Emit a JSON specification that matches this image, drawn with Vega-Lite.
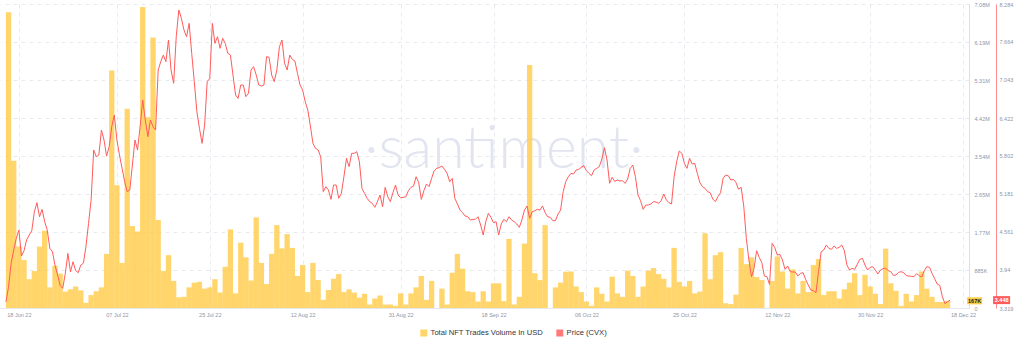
{
"$schema":"https://vega.github.io/schema/vega-lite/v6.json",
"width":969,"height":304,
"autosize":{"type":"none"},
"padding":{"left":0,"top":4,"right":54,"bottom":39},
"background":"#ffffff",
"config":{"view":{"stroke":null},"font":"Liberation Sans"},
"datasets":{
"vol":[
{"t":"2022-06-16","v":6886000},{"t":"2022-06-17","v":3430000},{"t":"2022-06-18","v":1430000},{"t":"2022-06-19","v":1120000},{"t":"2022-06-20","v":670000},{"t":"2022-06-21","v":860000},{"t":"2022-06-22","v":1430000},{"t":"2022-06-23","v":1800000},{"t":"2022-06-24","v":480000},{"t":"2022-06-25","v":985000},{"t":"2022-06-26","v":800000},{"t":"2022-06-27","v":380000},{"t":"2022-06-28","v":435000},{"t":"2022-06-29","v":500000},{"t":"2022-06-30","v":410000},
{"t":"2022-07-01","v":120000},{"t":"2022-07-02","v":300000},{"t":"2022-07-03","v":390000},{"t":"2022-07-04","v":480000},{"t":"2022-07-05","v":1260000},{"t":"2022-07-06","v":5530000},{"t":"2022-07-07","v":2860000},{"t":"2022-07-08","v":1050000},{"t":"2022-07-09","v":4640000},{"t":"2022-07-10","v":1910000},{"t":"2022-07-11","v":1780000},{"t":"2022-07-12","v":7010000},{"t":"2022-07-13","v":4440000},{"t":"2022-07-14","v":6300000},{"t":"2022-07-15","v":2050000},{"t":"2022-07-16","v":860000},{"t":"2022-07-17","v":1230000},{"t":"2022-07-18","v":630000},{"t":"2022-07-19","v":250000},{"t":"2022-07-20","v":260000},{"t":"2022-07-21","v":480000},{"t":"2022-07-22","v":590000},{"t":"2022-07-23","v":610000},{"t":"2022-07-24","v":450000},{"t":"2022-07-25","v":480000},{"t":"2022-07-26","v":670000},{"t":"2022-07-27","v":360000},{"t":"2022-07-28","v":960000},{"t":"2022-07-29","v":1830000},{"t":"2022-07-30","v":340000},{"t":"2022-07-31","v":1520000},
{"t":"2022-08-01","v":1180000},{"t":"2022-08-02","v":640000},{"t":"2022-08-03","v":2110000},{"t":"2022-08-04","v":1050000},{"t":"2022-08-05","v":560000},{"t":"2022-08-06","v":1260000},{"t":"2022-08-07","v":1930000},{"t":"2022-08-08","v":1390000},{"t":"2022-08-09","v":1720000},{"t":"2022-08-10","v":1400000},{"t":"2022-08-11","v":745000},{"t":"2022-08-12","v":1000000},{"t":"2022-08-13","v":370000},{"t":"2022-08-14","v":1050000},{"t":"2022-08-15","v":650000},{"t":"2022-08-16","v":190000},{"t":"2022-08-17","v":420000},{"t":"2022-08-18","v":680000},{"t":"2022-08-19","v":790000},{"t":"2022-08-20","v":370000},{"t":"2022-08-21","v":435000},{"t":"2022-08-22","v":360000},{"t":"2022-08-23","v":240000},{"t":"2022-08-24","v":330000},{"t":"2022-08-25","v":80000},{"t":"2022-08-26","v":220000},{"t":"2022-08-27","v":290000},{"t":"2022-08-28","v":80000},{"t":"2022-08-29","v":80000},{"t":"2022-08-30","v":50000},{"t":"2022-08-31","v":340000},
{"t":"2022-09-01","v":80000},{"t":"2022-09-02","v":340000},{"t":"2022-09-03","v":480000},{"t":"2022-09-04","v":745000},{"t":"2022-09-05","v":190000},{"t":"2022-09-06","v":630000},{"t":"2022-09-07","v":0},{"t":"2022-09-08","v":450000},{"t":"2022-09-09","v":80000},{"t":"2022-09-10","v":820000},{"t":"2022-09-11","v":1260000},{"t":"2022-09-12","v":915000},{"t":"2022-09-13","v":390000},{"t":"2022-09-14","v":370000},{"t":"2022-09-15","v":150000},{"t":"2022-09-16","v":390000},{"t":"2022-09-17","v":150000},{"t":"2022-09-18","v":575000},{"t":"2022-09-19","v":575000},{"t":"2022-09-20","v":160000},{"t":"2022-09-21","v":1610000},{"t":"2022-09-22","v":80000},{"t":"2022-09-23","v":260000},{"t":"2022-09-24","v":1500000},{"t":"2022-09-25","v":5660000},{"t":"2022-09-26","v":810000},{"t":"2022-09-27","v":650000},{"t":"2022-09-28","v":1930000},{"t":"2022-09-29","v":0},{"t":"2022-09-30","v":480000},
{"t":"2022-10-01","v":590000},{"t":"2022-10-02","v":845000},{"t":"2022-10-03","v":850000},{"t":"2022-10-04","v":500000},{"t":"2022-10-05","v":370000},{"t":"2022-10-06","v":150000},{"t":"2022-10-07","v":50000},{"t":"2022-10-08","v":480000},{"t":"2022-10-09","v":330000},{"t":"2022-10-10","v":150000},{"t":"2022-10-11","v":730000},{"t":"2022-10-12","v":340000},{"t":"2022-10-13","v":260000},{"t":"2022-10-14","v":870000},{"t":"2022-10-15","v":745000},{"t":"2022-10-16","v":260000},{"t":"2022-10-17","v":500000},{"t":"2022-10-18","v":870000},{"t":"2022-10-19","v":930000},{"t":"2022-10-20","v":790000},{"t":"2022-10-21","v":680000},{"t":"2022-10-22","v":480000},{"t":"2022-10-23","v":1400000},{"t":"2022-10-24","v":610000},{"t":"2022-10-25","v":500000},{"t":"2022-10-26","v":630000},{"t":"2022-10-27","v":340000},{"t":"2022-10-28","v":380000},{"t":"2022-10-29","v":1740000},{"t":"2022-10-30","v":670000},{"t":"2022-10-31","v":1230000},
{"t":"2022-11-01","v":1300000},{"t":"2022-11-02","v":110000},{"t":"2022-11-03","v":90000},{"t":"2022-11-04","v":310000},{"t":"2022-11-05","v":1400000},{"t":"2022-11-06","v":1020000},{"t":"2022-11-07","v":1180000},{"t":"2022-11-08","v":720000},{"t":"2022-11-09","v":650000},{"t":"2022-11-10","v":0},{"t":"2022-11-11","v":630000},{"t":"2022-11-12","v":1200000},{"t":"2022-11-13","v":850000},{"t":"2022-11-14","v":450000},{"t":"2022-11-15","v":900000},{"t":"2022-11-16","v":340000},{"t":"2022-11-17","v":630000},{"t":"2022-11-18","v":370000},{"t":"2022-11-19","v":1000000},{"t":"2022-11-20","v":1140000},{"t":"2022-11-21","v":300000},{"t":"2022-11-22","v":390000},{"t":"2022-11-23","v":390000},{"t":"2022-11-24","v":220000},{"t":"2022-11-25","v":435000},{"t":"2022-11-26","v":590000},{"t":"2022-11-27","v":810000},{"t":"2022-11-28","v":300000},{"t":"2022-11-29","v":770000},{"t":"2022-11-30","v":500000},
{"t":"2022-12-01","v":330000},{"t":"2022-12-02","v":90000},{"t":"2022-12-03","v":1380000},{"t":"2022-12-04","v":575000},{"t":"2022-12-05","v":400000},{"t":"2022-12-06","v":50000},{"t":"2022-12-07","v":330000},{"t":"2022-12-08","v":150000},{"t":"2022-12-09","v":300000},{"t":"2022-12-10","v":850000},{"t":"2022-12-11","v":450000},{"t":"2022-12-12","v":260000},{"t":"2022-12-13","v":140000},{"t":"2022-12-14","v":140000},{"t":"2022-12-15","v":167000}
],
"price":[
{"t":"2022-06-15T12:00Z","p":3.42},{"t":"2022-06-16T00:00Z","p":3.667},{"t":"2022-06-16T12:00Z","p":4.05},{"t":"2022-06-17T00:00Z","p":4.266},{"t":"2022-06-17T12:00Z","p":4.457},{"t":"2022-06-18T00:00Z","p":4.59},{"t":"2022-06-18T12:00Z","p":4.168},{"t":"2022-06-19T00:00Z","p":4.255},{"t":"2022-06-19T12:00Z","p":4.43},{"t":"2022-06-20T00:00Z","p":4.511},{"t":"2022-06-20T12:00Z","p":4.58},{"t":"2022-06-21T00:00Z","p":4.89},{"t":"2022-06-21T12:00Z","p":5.04},{"t":"2022-06-22T00:00Z","p":4.81},{"t":"2022-06-22T12:00Z","p":4.93},{"t":"2022-06-23T00:00Z","p":4.73},{"t":"2022-06-23T12:00Z","p":4.59},{"t":"2022-06-24T00:00Z","p":4.293},{"t":"2022-06-24T12:00Z","p":4.24},{"t":"2022-06-25T00:00Z","p":4.02},{"t":"2022-06-25T12:00Z","p":3.86},{"t":"2022-06-26T00:00Z","p":3.69},{"t":"2022-06-26T12:00Z","p":3.64},{"t":"2022-06-27T00:00Z","p":3.885},{"t":"2022-06-27T12:00Z","p":4.21},{"t":"2022-06-28T00:00Z","p":3.91},{"t":"2022-06-28T12:00Z","p":4.075},{"t":"2022-06-29T00:00Z","p":3.93},{"t":"2022-06-29T12:00Z","p":3.896},{"t":"2022-06-30T00:00Z","p":4.02},{"t":"2022-06-30T12:00Z","p":4.05},
{"t":"2022-07-01T00:00Z","p":4.32},{"t":"2022-07-01T12:00Z","p":4.7},{"t":"2022-07-02T00:00Z","p":5.08},{"t":"2022-07-02T12:00Z","p":5.9},{"t":"2022-07-03T00:00Z","p":5.79},{"t":"2022-07-03T12:00Z","p":5.818},{"t":"2022-07-04T00:00Z","p":6.226},{"t":"2022-07-04T12:00Z","p":6.063},{"t":"2022-07-05T00:00Z","p":5.8},{"t":"2022-07-05T12:00Z","p":5.953},{"t":"2022-07-06T00:00Z","p":6.28},{"t":"2022-07-06T12:00Z","p":6.47},{"t":"2022-07-07T00:00Z","p":6.063},{"t":"2022-07-07T12:00Z","p":5.818},{"t":"2022-07-08T00:00Z","p":5.6},{"t":"2022-07-08T12:00Z","p":5.382},{"t":"2022-07-09T00:00Z","p":5.219},{"t":"2022-07-09T12:00Z","p":5.246},{"t":"2022-07-10T00:00Z","p":5.654},{"t":"2022-07-10T12:00Z","p":6.063},{"t":"2022-07-11T00:00Z","p":5.9},{"t":"2022-07-11T12:00Z","p":6.28},{"t":"2022-07-12T00:00Z","p":6.716},{"t":"2022-07-12T12:00Z","p":6.389},{"t":"2022-07-13T00:00Z","p":6.117},{"t":"2022-07-13T12:00Z","p":6.389},{"t":"2022-07-14T00:00Z","p":6.28},{"t":"2022-07-14T12:00Z","p":6.226},{"t":"2022-07-15T00:00Z","p":7.206},{"t":"2022-07-15T12:00Z","p":7.342},{"t":"2022-07-16T00:00Z","p":7.45},{"t":"2022-07-16T12:00Z","p":7.342},{"t":"2022-07-17T00:00Z","p":7.696},{"t":"2022-07-17T12:00Z","p":7.206},{"t":"2022-07-18T00:00Z","p":6.988},{"t":"2022-07-18T12:00Z","p":7.75},{"t":"2022-07-19T00:00Z","p":8.186},{"t":"2022-07-19T12:00Z","p":8.05},{"t":"2022-07-20T00:00Z","p":7.859},{"t":"2022-07-20T12:00Z","p":7.75},{"t":"2022-07-21T00:00Z","p":7.968},{"t":"2022-07-21T12:00Z","p":7.478},{"t":"2022-07-22T00:00Z","p":7.015},{"t":"2022-07-22T12:00Z","p":6.525},{"t":"2022-07-23T00:00Z","p":6.253},{"t":"2022-07-23T12:00Z","p":6.008},{"t":"2022-07-24T00:00Z","p":6.307},{"t":"2022-07-24T12:00Z","p":7.015},{"t":"2022-07-25T00:00Z","p":7.07},{"t":"2022-07-25T12:00Z","p":7.968},{"t":"2022-07-26T00:00Z","p":7.641},{"t":"2022-07-26T12:00Z","p":7.75},{"t":"2022-07-27T00:00Z","p":7.56},{"t":"2022-07-27T12:00Z","p":7.723},{"t":"2022-07-28T00:00Z","p":7.641},{"t":"2022-07-28T12:00Z","p":7.478},{"t":"2022-07-29T00:00Z","p":7.45},{"t":"2022-07-29T12:00Z","p":7.124},{"t":"2022-07-30T00:00Z","p":6.797},{"t":"2022-07-30T12:00Z","p":6.743},{"t":"2022-07-31T00:00Z","p":6.961},{"t":"2022-07-31T12:00Z","p":6.961},
{"t":"2022-08-01T00:00Z","p":6.77},{"t":"2022-08-01T12:00Z","p":6.825},{"t":"2022-08-02T00:00Z","p":7.206},{"t":"2022-08-02T12:00Z","p":7.26},{"t":"2022-08-03T00:00Z","p":7.124},{"t":"2022-08-03T12:00Z","p":6.961},{"t":"2022-08-04T00:00Z","p":6.944},{"t":"2022-08-04T12:00Z","p":6.961},{"t":"2022-08-05T00:00Z","p":7.424},{"t":"2022-08-05T12:00Z","p":7.413},{"t":"2022-08-06T00:00Z","p":7.124},{"t":"2022-08-06T12:00Z","p":7.015},{"t":"2022-08-07T00:00Z","p":7.206},{"t":"2022-08-07T12:00Z","p":7.587},{"t":"2022-08-08T00:00Z","p":7.696},{"t":"2022-08-08T12:00Z","p":7.315},{"t":"2022-08-09T00:00Z","p":7.206},{"t":"2022-08-09T12:00Z","p":7.45},{"t":"2022-08-10T00:00Z","p":7.38},{"t":"2022-08-10T12:00Z","p":7.353},{"t":"2022-08-11T00:00Z","p":7.151},{"t":"2022-08-11T12:00Z","p":6.961},{"t":"2022-08-12T00:00Z","p":6.879},{"t":"2022-08-12T12:00Z","p":6.689},{"t":"2022-08-13T00:00Z","p":6.552},{"t":"2022-08-13T12:00Z","p":6.291},{"t":"2022-08-14T00:00Z","p":6.008},{"t":"2022-08-14T12:00Z","p":5.926},{"t":"2022-08-15T00:00Z","p":5.899},{"t":"2022-08-15T12:00Z","p":5.79},{"t":"2022-08-16T00:00Z","p":5.219},{"t":"2022-08-16T12:00Z","p":5.3},{"t":"2022-08-17T00:00Z","p":5.246},{"t":"2022-08-17T12:00Z","p":5.093},{"t":"2022-08-18T00:00Z","p":5.328},{"t":"2022-08-18T12:00Z","p":5.328},{"t":"2022-08-19T00:00Z","p":5.11},{"t":"2022-08-19T12:00Z","p":5.191},{"t":"2022-08-20T00:00Z","p":5.463},{"t":"2022-08-20T12:00Z","p":5.763},{"t":"2022-08-21T00:00Z","p":5.627},{"t":"2022-08-21T12:00Z","p":5.845},{"t":"2022-08-22T00:00Z","p":5.845},{"t":"2022-08-22T12:00Z","p":5.872},{"t":"2022-08-23T00:00Z","p":5.709},{"t":"2022-08-23T12:00Z","p":5.273},{"t":"2022-08-24T00:00Z","p":5.191},{"t":"2022-08-24T12:00Z","p":5.11},{"t":"2022-08-25T00:00Z","p":5.056},{"t":"2022-08-25T12:00Z","p":5.028},{"t":"2022-08-26T00:00Z","p":4.963},{"t":"2022-08-26T12:00Z","p":5.056},{"t":"2022-08-27T00:00Z","p":5.164},{"t":"2022-08-27T12:00Z","p":4.974},{"t":"2022-08-28T00:00Z","p":5.29},{"t":"2022-08-28T12:00Z","p":5.137},{"t":"2022-08-29T00:00Z","p":5.056},{"t":"2022-08-29T12:00Z","p":5.202},{"t":"2022-08-30T00:00Z","p":5.327},{"t":"2022-08-30T12:00Z","p":5.164},{"t":"2022-08-31T00:00Z","p":5.12},{"t":"2022-08-31T12:00Z","p":5.126},
{"t":"2022-09-01T00:00Z","p":5.137},{"t":"2022-09-01T12:00Z","p":5.235},{"t":"2022-09-02T00:00Z","p":5.29},{"t":"2022-09-02T12:00Z","p":5.311},{"t":"2022-09-03T00:00Z","p":5.463},{"t":"2022-09-03T12:00Z","p":5.366},{"t":"2022-09-04T00:00Z","p":5.093},{"t":"2022-09-04T12:00Z","p":5.235},{"t":"2022-09-05T00:00Z","p":5.344},{"t":"2022-09-05T12:00Z","p":5.3},{"t":"2022-09-06T00:00Z","p":5.437},{"t":"2022-09-06T12:00Z","p":5.562},{"t":"2022-09-07T00:00Z","p":5.6},{"t":"2022-09-07T12:00Z","p":5.611},{"t":"2022-09-08T00:00Z","p":5.638},{"t":"2022-09-08T12:00Z","p":5.583},{"t":"2022-09-09T00:00Z","p":5.518},{"t":"2022-09-09T12:00Z","p":5.382},{"t":"2022-09-10T00:00Z","p":5.437},{"t":"2022-09-10T12:00Z","p":5.11},{"t":"2022-09-11T00:00Z","p":5.017},{"t":"2022-09-11T12:00Z","p":4.919},{"t":"2022-09-12T00:00Z","p":4.876},{"t":"2022-09-12T12:00Z","p":4.821},{"t":"2022-09-13T00:00Z","p":4.81},{"t":"2022-09-13T12:00Z","p":4.756},{"t":"2022-09-14T00:00Z","p":4.767},{"t":"2022-09-14T12:00Z","p":4.767},{"t":"2022-09-15T00:00Z","p":4.81},{"t":"2022-09-15T12:00Z","p":4.674},{"t":"2022-09-16T00:00Z","p":4.511},{"t":"2022-09-16T12:00Z","p":4.729},{"t":"2022-09-17T00:00Z","p":4.865},{"t":"2022-09-17T12:00Z","p":4.8},{"t":"2022-09-18T00:00Z","p":4.712},{"t":"2022-09-18T12:00Z","p":4.729},{"t":"2022-09-19T00:00Z","p":4.511},{"t":"2022-09-19T12:00Z","p":4.691},{"t":"2022-09-20T00:00Z","p":4.767},{"t":"2022-09-20T12:00Z","p":4.729},{"t":"2022-09-21T00:00Z","p":4.81},{"t":"2022-09-21T12:00Z","p":4.756},{"t":"2022-09-22T00:00Z","p":4.729},{"t":"2022-09-22T12:00Z","p":4.691},{"t":"2022-09-23T00:00Z","p":4.636},{"t":"2022-09-23T12:00Z","p":4.756},{"t":"2022-09-24T00:00Z","p":4.919},{"t":"2022-09-24T12:00Z","p":4.985},{"t":"2022-09-25T00:00Z","p":4.783},{"t":"2022-09-25T12:00Z","p":4.892},{"t":"2022-09-26T00:00Z","p":4.908},{"t":"2022-09-26T12:00Z","p":4.93},{"t":"2022-09-27T00:00Z","p":4.919},{"t":"2022-09-27T12:00Z","p":4.985},{"t":"2022-09-28T00:00Z","p":4.876},{"t":"2022-09-28T12:00Z","p":4.81},{"t":"2022-09-29T00:00Z","p":4.8},{"t":"2022-09-29T12:00Z","p":4.745},{"t":"2022-09-30T00:00Z","p":4.745},{"t":"2022-09-30T12:00Z","p":4.854},
{"t":"2022-10-01T00:00Z","p":4.919},{"t":"2022-10-01T12:00Z","p":5.219},{"t":"2022-10-02T00:00Z","p":5.382},{"t":"2022-10-02T12:00Z","p":5.463},{"t":"2022-10-03T00:00Z","p":5.518},{"t":"2022-10-03T12:00Z","p":5.507},{"t":"2022-10-04T00:00Z","p":5.573},{"t":"2022-10-04T12:00Z","p":5.583},{"t":"2022-10-05T00:00Z","p":5.616},{"t":"2022-10-05T12:00Z","p":5.643},{"t":"2022-10-06T00:00Z","p":5.562},{"t":"2022-10-06T12:00Z","p":5.518},{"t":"2022-10-07T00:00Z","p":5.48},{"t":"2022-10-07T12:00Z","p":5.573},{"t":"2022-10-08T00:00Z","p":5.6},{"t":"2022-10-08T12:00Z","p":5.627},{"t":"2022-10-09T00:00Z","p":5.752},{"t":"2022-10-09T12:00Z","p":5.937},{"t":"2022-10-10T00:00Z","p":5.736},{"t":"2022-10-10T12:00Z","p":5.355},{"t":"2022-10-11T00:00Z","p":5.453},{"t":"2022-10-11T12:00Z","p":5.387},{"t":"2022-10-12T00:00Z","p":5.409},{"t":"2022-10-12T12:00Z","p":5.393},{"t":"2022-10-13T00:00Z","p":5.398},{"t":"2022-10-13T12:00Z","p":5.355},{"t":"2022-10-14T00:00Z","p":5.426},{"t":"2022-10-14T12:00Z","p":5.6},{"t":"2022-10-15T00:00Z","p":5.654},{"t":"2022-10-15T12:00Z","p":5.464},{"t":"2022-10-16T00:00Z","p":5.164},{"t":"2022-10-16T12:00Z","p":5.072},{"t":"2022-10-17T00:00Z","p":4.93},{"t":"2022-10-17T12:00Z","p":5.0},{"t":"2022-10-18T00:00Z","p":5.0},{"t":"2022-10-18T12:00Z","p":5.017},{"t":"2022-10-19T00:00Z","p":5.056},{"t":"2022-10-19T12:00Z","p":5.05},{"t":"2022-10-20T00:00Z","p":5.028},{"t":"2022-10-20T12:00Z","p":5.072},{"t":"2022-10-21T00:00Z","p":5.18},{"t":"2022-10-21T12:00Z","p":5.083},{"t":"2022-10-22T00:00Z","p":5.039},{"t":"2022-10-22T12:00Z","p":5.017},{"t":"2022-10-23T00:00Z","p":5.464},{"t":"2022-10-23T12:00Z","p":5.709},{"t":"2022-10-24T00:00Z","p":5.883},{"t":"2022-10-24T12:00Z","p":5.845},{"t":"2022-10-25T00:00Z","p":5.681},{"t":"2022-10-25T12:00Z","p":5.6},{"t":"2022-10-26T00:00Z","p":5.763},{"t":"2022-10-26T12:00Z","p":5.671},{"t":"2022-10-27T00:00Z","p":5.681},{"t":"2022-10-27T12:00Z","p":5.518},{"t":"2022-10-28T00:00Z","p":5.366},{"t":"2022-10-28T12:00Z","p":5.3},{"t":"2022-10-29T00:00Z","p":5.273},{"t":"2022-10-29T12:00Z","p":5.219},{"t":"2022-10-30T00:00Z","p":5.202},{"t":"2022-10-30T12:00Z","p":5.099},{"t":"2022-10-31T00:00Z","p":5.056},{"t":"2022-10-31T12:00Z","p":5.137},
{"t":"2022-11-01T00:00Z","p":5.202},{"t":"2022-11-01T12:00Z","p":5.437},{"t":"2022-11-02T00:00Z","p":5.491},{"t":"2022-11-02T12:00Z","p":5.48},{"t":"2022-11-03T00:00Z","p":5.409},{"t":"2022-11-03T12:00Z","p":5.42},{"t":"2022-11-04T00:00Z","p":5.366},{"t":"2022-11-04T12:00Z","p":5.257},{"t":"2022-11-05T00:00Z","p":5.29},{"t":"2022-11-05T12:00Z","p":4.985},{"t":"2022-11-06T00:00Z","p":4.457},{"t":"2022-11-06T12:00Z","p":4.103},{"t":"2022-11-07T00:00Z","p":3.83},{"t":"2022-11-07T12:00Z","p":3.967},{"t":"2022-11-08T00:00Z","p":4.255},{"t":"2022-11-08T12:00Z","p":4.146},{"t":"2022-11-09T00:00Z","p":4.059},{"t":"2022-11-09T12:00Z","p":3.841},{"t":"2022-11-10T00:00Z","p":3.83},{"t":"2022-11-10T12:00Z","p":3.705},{"t":"2022-11-11T00:00Z","p":4.375},{"t":"2022-11-11T12:00Z","p":4.31},{"t":"2022-11-12T00:00Z","p":4.184},{"t":"2022-11-12T12:00Z","p":4.195},{"t":"2022-11-13T00:00Z","p":4.103},{"t":"2022-11-13T12:00Z","p":3.95},{"t":"2022-11-14T00:00Z","p":4.005},{"t":"2022-11-14T12:00Z","p":3.912},{"t":"2022-11-15T00:00Z","p":3.907},{"t":"2022-11-15T12:00Z","p":3.907},{"t":"2022-11-16T00:00Z","p":3.841},{"t":"2022-11-16T12:00Z","p":3.885},{"t":"2022-11-17T00:00Z","p":3.896},{"t":"2022-11-17T12:00Z","p":3.787},{"t":"2022-11-18T00:00Z","p":3.694},{"t":"2022-11-18T12:00Z","p":3.613},{"t":"2022-11-19T00:00Z","p":3.602},{"t":"2022-11-19T12:00Z","p":3.569},{"t":"2022-11-20T00:00Z","p":3.918},{"t":"2022-11-20T12:00Z","p":4.239},{"t":"2022-11-21T00:00Z","p":4.266},{"t":"2022-11-21T12:00Z","p":4.348},{"t":"2022-11-22T00:00Z","p":4.293},{"t":"2022-11-22T12:00Z","p":4.277},{"t":"2022-11-23T00:00Z","p":4.331},{"t":"2022-11-23T12:00Z","p":4.293},{"t":"2022-11-24T00:00Z","p":4.31},{"t":"2022-11-24T12:00Z","p":4.348},{"t":"2022-11-25T00:00Z","p":4.255},{"t":"2022-11-25T12:00Z","p":4.021},{"t":"2022-11-26T00:00Z","p":3.939},{"t":"2022-11-26T12:00Z","p":3.967},{"t":"2022-11-27T00:00Z","p":3.95},{"t":"2022-11-27T12:00Z","p":4.032},{"t":"2022-11-28T00:00Z","p":4.114},{"t":"2022-11-28T12:00Z","p":4.13},{"t":"2022-11-29T00:00Z","p":4.021},{"t":"2022-11-29T12:00Z","p":3.939},{"t":"2022-11-30T00:00Z","p":3.983},{"t":"2022-11-30T12:00Z","p":3.994},
{"t":"2022-12-01T00:00Z","p":3.939},{"t":"2022-12-01T12:00Z","p":3.874},{"t":"2022-12-02T00:00Z","p":3.939},{"t":"2022-12-02T12:00Z","p":3.961},{"t":"2022-12-03T00:00Z","p":3.972},{"t":"2022-12-03T12:00Z","p":3.929},{"t":"2022-12-04T00:00Z","p":3.912},{"t":"2022-12-04T12:00Z","p":3.852},{"t":"2022-12-05T00:00Z","p":3.858},{"t":"2022-12-05T12:00Z","p":3.901},{"t":"2022-12-06T00:00Z","p":3.912},{"t":"2022-12-06T12:00Z","p":3.896},{"t":"2022-12-07T00:00Z","p":3.847},{"t":"2022-12-07T12:00Z","p":3.841},{"t":"2022-12-08T00:00Z","p":3.836},{"t":"2022-12-08T12:00Z","p":3.83},{"t":"2022-12-09T00:00Z","p":3.88},{"t":"2022-12-09T12:00Z","p":3.847},{"t":"2022-12-10T00:00Z","p":3.825},{"t":"2022-12-10T12:00Z","p":3.929},{"t":"2022-12-11T00:00Z","p":3.994},{"t":"2022-12-11T12:00Z","p":3.983},{"t":"2022-12-12T00:00Z","p":3.885},{"t":"2022-12-12T12:00Z","p":3.798},{"t":"2022-12-13T00:00Z","p":3.711},{"t":"2022-12-13T12:00Z","p":3.689},{"t":"2022-12-14T00:00Z","p":3.504},{"t":"2022-12-14T12:00Z","p":3.39},{"t":"2022-12-15T00:00Z","p":3.422},{"t":"2022-12-15T12:00Z","p":3.448}
]},
"encoding":{"x":{"field":"t","type":"temporal",
 "scale":{"type":"utc","domain":[{"year":2022,"month":6,"date":15,"hours":7,"minutes":26,"utc":true},{"year":2022,"month":12,"date":18,"hours":4,"minutes":35,"utc":true}]},
 "axis":{"title":null,"format":"%d %b %y","values":[{"year":2022,"month":6,"date":18,"utc":true},{"year":2022,"month":7,"date":7,"utc":true},{"year":2022,"month":7,"date":25,"utc":true},{"year":2022,"month":8,"date":12,"utc":true},{"year":2022,"month":8,"date":31,"utc":true},{"year":2022,"month":9,"date":18,"utc":true},{"year":2022,"month":10,"date":6,"utc":true},{"year":2022,"month":10,"date":25,"utc":true},{"year":2022,"month":11,"date":12,"utc":true},{"year":2022,"month":11,"date":30,"utc":true},{"year":2022,"month":12,"date":18,"utc":true}],
 "labelFontSize":5.5,"labelColor":"#8d95a8","tickSize":0,"labelPadding":4,"domainColor":"#e6e8ee","grid":true,"gridColor":"#e8eaf0","gridDash":[4,4],"labelOverlap":false,"labelFlush":false}}},
"layer":[
 {"encoding":{"y":{"field":"v","type":"quantitative","scale":{"domain":[0,7079200],"nice":false,"zero":true},
   "axis":{"orient":"right","title":null,"values":[0,884900,1769800,2654700,3539600,4424500,5309400,6194300,7079200],"labelExpr":"datum.value == 0 ? '0' : replace(format(datum.value, '.3s'), 'k', 'K')","labelFontSize":5.5,"labelColor":"#8d95a8","tickSize":0,"labelPadding":5,"domainColor":"#ffdf8e","grid":true,"gridColor":"#e8eaf0","gridDash":[4,4]}}},
  "layer":[
   {"data":{"values":[{"t":"2022-09-20T00:00Z","v":3260000,"txt":"·santiment·"}]},
    "mark":{"type":"text","font":"Lato","fontWeight":300,"fontSize":59,"color":"#e2e5f0","align":"center","baseline":"alphabetic"},
    "encoding":{"text":{"field":"txt"}}},
   {"data":{"name":"vol"},"mark":{"type":"bar","width":5.3,"opacity":0.8},
    "encoding":{"color":{"datum":"Total NFT Trades Volume In USD","type":"nominal",
      "scale":{"domain":["Total NFT Trades Volume In USD","Price (CVX)"],"range":["#ffcb47","#ff5b5b"]},
      "legend":{"orient":"none","legendX":420,"legendY":325,"direction":"horizontal","title":null,"symbolType":"square","symbolSize":30,"labelFontSize":7.6,"labelColor":"#2f3441","columnPadding":11,"labelOffset":3,"padding":0,
        "encode":{"symbols":{"update":{"fill":{"scale":"color","field":"value"},"stroke":{"value":"transparent"},"opacity":{"value":1}}}}}}}},
   {"data":{"values":[{"t":"2022-12-15T12:00Z","v":167000,"lab":"167K"}]},
    "layer":[
     {"mark":{"type":"point","shape":"M-1,-0.47H1V0.47H-1Z","size":225,"filled":true,"color":"#ffcb47","opacity":1,"xOffset":24.5}},
     {"mark":{"type":"text","dx":24.5,"fontSize":5.5,"fontWeight":"bold","color":"#1e1e1e","align":"center","baseline":"middle"},"encoding":{"text":{"field":"lab"}}}
    ]}
  ]},
 {"encoding":{"y":{"field":"p","type":"quantitative","scale":{"domain":[3.319,8.284],"nice":false,"zero":false},
   "axis":{"orient":"right","offset":27,"title":null,"values":[3.319,3.94,4.561,5.181,5.802,6.422,7.043,7.664,8.284],"labelExpr":"format(datum.value, '.4~r')","labelFontSize":5.5,"labelColor":"#8d95a8","tickSize":0,"labelPadding":3,"domainColor":"#ff8c8c","grid":false}}},
  "layer":[
   {"data":{"name":"price"},"mark":{"type":"line","strokeWidth":1},"encoding":{"color":{"datum":"Price (CVX)","type":"nominal"}}},
   {"data":{"values":[{"t":"2022-12-15T12:00Z","p":3.448,"lab":"3.448"}]},
    "layer":[
     {"mark":{"type":"point","shape":"M-1,-0.47H1V0.47H-1Z","size":289,"filled":true,"color":"#ff5b5b","opacity":1,"xOffset":51.5}},
     {"mark":{"type":"text","dx":51.5,"fontSize":5.5,"fontWeight":"bold","color":"#ffffff","align":"center","baseline":"middle"},"encoding":{"text":{"field":"lab"}}}
    ]}
  ]}
],
"resolve":{"scale":{"y":"independent"}}
}
